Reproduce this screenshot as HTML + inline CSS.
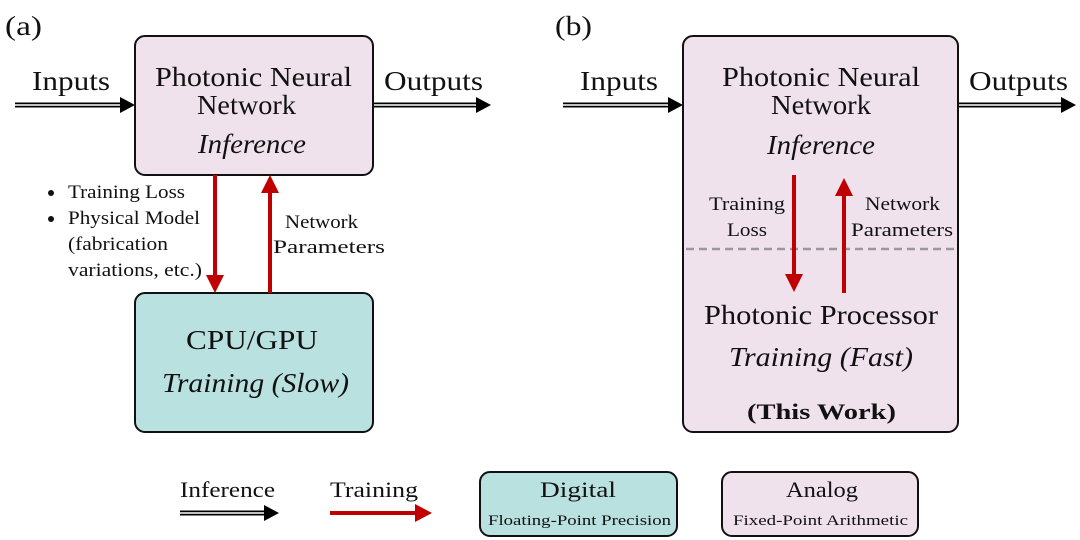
<!DOCTYPE html>
<html><head><meta charset="utf-8"><style>
html,body{margin:0;padding:0;background:#fff;}
svg{display:block;font-family:"Liberation Serif",serif;}
</style></head><body>
<svg width="1080" height="540" viewBox="0 0 1080 540" xmlns="http://www.w3.org/2000/svg">
<g fill="#111">
<text x="5" y="35" font-size="27" textLength="37" lengthAdjust="spacingAndGlyphs">(a)</text>
<text x="555" y="35" font-size="27" textLength="37" lengthAdjust="spacingAndGlyphs">(b)</text>
</g>
<g stroke="#000" stroke-width="5" fill="none">
<line x1="15" y1="105" x2="121" y2="105"/>
<line x1="373" y1="105" x2="477" y2="105"/>
<line x1="563" y1="105" x2="669" y2="105"/>
<line x1="958" y1="105" x2="1062" y2="105"/>
<line x1="180" y1="513" x2="265" y2="513"/>
</g>
<g stroke="#fff" stroke-width="1.5" fill="none">
<line x1="15" y1="105" x2="124" y2="105"/>
<line x1="373" y1="105" x2="480" y2="105"/>
<line x1="563" y1="105" x2="672" y2="105"/>
<line x1="958" y1="105" x2="1065" y2="105"/>
<line x1="180" y1="513" x2="268" y2="513"/>
</g>
<g fill="#000">
<path d="M120,97 L135,105 L120,113z"/>
<path d="M476,97 L491,105 L476,113z"/>
<path d="M668,97 L683,105 L668,113z"/>
<path d="M1061,97 L1076,105 L1061,113z"/>
<path d="M264,505 L279,513 L264,521z"/>
</g>
<rect x="135" y="36" width="238" height="139" rx="10" fill="#efe2ed" stroke="#111" stroke-width="2"/>
<rect x="135" y="293" width="238" height="139" rx="10" fill="#b9e1e0" stroke="#111" stroke-width="2"/>
<rect x="683" y="36" width="275" height="396" rx="10" fill="#efe2ed" stroke="#111" stroke-width="2"/>
<rect x="480" y="472" width="197" height="64" rx="10" fill="#b9e1e0" stroke="#111" stroke-width="2"/>
<rect x="722" y="472" width="196" height="64" rx="10" fill="#efe2ed" stroke="#111" stroke-width="2"/>
<line x1="686" y1="249" x2="957" y2="249" stroke="#999" stroke-width="2.5" stroke-dasharray="8,5"/>
<g stroke="#c00000" stroke-width="4">
<line x1="215" y1="175" x2="215" y2="278"/>
<line x1="270" y1="293" x2="270" y2="190"/>
<line x1="794" y1="175" x2="794" y2="278"/>
<line x1="844" y1="293" x2="844" y2="190"/>
<line x1="330" y1="513" x2="418" y2="513"/>
</g>
<g fill="#c00000">
<path d="M206,275 L215,293 L224,275z"/>
<path d="M261,193 L270,175 L279,193z"/>
<path d="M785,274 L794,292 L803,274z"/>
<path d="M835,196 L844,178 L853,196z"/>
<path d="M415,504 L432,513 L415,522z"/>
</g>
<g fill="#111">
<text x="32" y="90" font-size="27" textLength="78" lengthAdjust="spacingAndGlyphs">Inputs</text>
<text x="384" y="90" font-size="27" textLength="99" lengthAdjust="spacingAndGlyphs">Outputs</text>
<text x="580" y="90" font-size="27" textLength="78" lengthAdjust="spacingAndGlyphs">Inputs</text>
<text x="969" y="90" font-size="27" textLength="99" lengthAdjust="spacingAndGlyphs">Outputs</text>

<text x="155" y="86" font-size="27" textLength="197" lengthAdjust="spacingAndGlyphs">Photonic Neural</text>
<text x="197" y="114" font-size="27" textLength="99" lengthAdjust="spacingAndGlyphs">Network</text>
<text x="198" y="153" font-size="27" font-style="italic" textLength="108" lengthAdjust="spacingAndGlyphs">Inference</text>

<circle cx="51" cy="193" r="3"/>
<circle cx="51" cy="219" r="3"/>
<text x="68" y="198" font-size="19" textLength="117" lengthAdjust="spacingAndGlyphs">Training Loss</text>
<text x="68" y="224" font-size="19" textLength="132" lengthAdjust="spacingAndGlyphs">Physical Model</text>
<text x="68" y="250" font-size="19" textLength="100" lengthAdjust="spacingAndGlyphs">(fabrication</text>
<text x="68" y="276" font-size="19" textLength="134" lengthAdjust="spacingAndGlyphs">variations, etc.)</text>
<text x="285" y="228" font-size="19" textLength="73" lengthAdjust="spacingAndGlyphs">Network</text>
<text x="273" y="253" font-size="19" textLength="112" lengthAdjust="spacingAndGlyphs">Parameters</text>

<text x="186" y="349" font-size="27" textLength="132" lengthAdjust="spacingAndGlyphs">CPU/GPU</text>
<text x="162" y="392" font-size="27" font-style="italic" textLength="187" lengthAdjust="spacingAndGlyphs">Training (Slow)</text>

<text x="722" y="86" font-size="27" textLength="198" lengthAdjust="spacingAndGlyphs">Photonic Neural</text>
<text x="771" y="114" font-size="27" textLength="100" lengthAdjust="spacingAndGlyphs">Network</text>
<text x="767" y="154" font-size="27" font-style="italic" textLength="108" lengthAdjust="spacingAndGlyphs">Inference</text>
<text x="709" y="210" font-size="19" textLength="76" lengthAdjust="spacingAndGlyphs">Training</text>
<text x="727" y="236" font-size="19" textLength="40" lengthAdjust="spacingAndGlyphs">Loss</text>
<text x="865" y="210" font-size="19" textLength="75" lengthAdjust="spacingAndGlyphs">Network</text>
<text x="851" y="236" font-size="19" textLength="102" lengthAdjust="spacingAndGlyphs">Parameters</text>
<text x="704" y="324" font-size="27" textLength="234" lengthAdjust="spacingAndGlyphs">Photonic Processor</text>
<text x="729" y="366" font-size="27" font-style="italic" textLength="184" lengthAdjust="spacingAndGlyphs">Training (Fast)</text>
<text x="747" y="419" font-size="22" font-weight="bold" textLength="149" lengthAdjust="spacingAndGlyphs">(This Work)</text>

<text x="180" y="497" font-size="22" textLength="95" lengthAdjust="spacingAndGlyphs">Inference</text>
<text x="330" y="497" font-size="22" textLength="88" lengthAdjust="spacingAndGlyphs">Training</text>
<text x="540" y="497" font-size="22" textLength="76" lengthAdjust="spacingAndGlyphs">Digital</text>
<text x="488" y="525" font-size="15" textLength="183" lengthAdjust="spacingAndGlyphs">Floating-Point Precision</text>
<text x="786" y="497" font-size="22" textLength="72" lengthAdjust="spacingAndGlyphs">Analog</text>
<text x="733" y="525" font-size="15" textLength="175" lengthAdjust="spacingAndGlyphs">Fixed-Point Arithmetic</text>
</g>
</svg>
</body></html>
